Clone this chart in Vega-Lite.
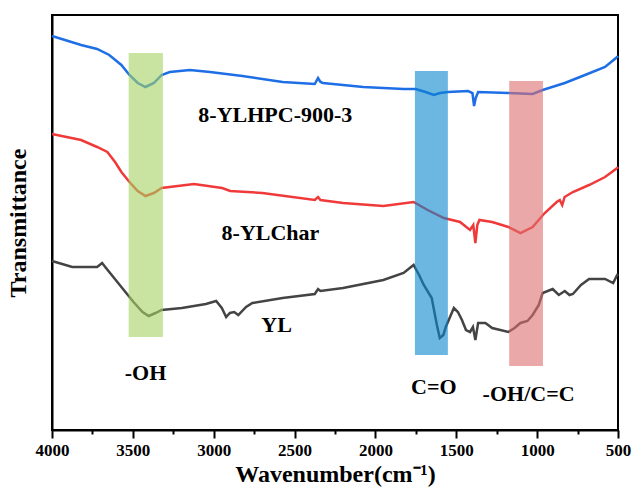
{
  "$schema": "https://vega.github.io/schema/vega-lite/v6.json",
  "width": 566,
  "height": 415,
  "autosize": "none",
  "padding": {"left": 52, "top": 15, "right": 15, "bottom": 58},
  "config": {
    "view": {"stroke": "#000000", "strokeWidth": 2},
    "font": "Liberation Serif"
  },
  "datasets": {
    "spectra": [
      {"series": "8-YLHPC-900-3", "w": 4000, "t": 394},
      {"series": "8-YLHPC-900-3", "w": 3900, "t": 389},
      {"series": "8-YLHPC-900-3", "w": 3820, "t": 385},
      {"series": "8-YLHPC-900-3", "w": 3721, "t": 381},
      {"series": "8-YLHPC-900-3", "w": 3646, "t": 375},
      {"series": "8-YLHPC-900-3", "w": 3571, "t": 365},
      {"series": "8-YLHPC-900-3", "w": 3521, "t": 355},
      {"series": "8-YLHPC-900-3", "w": 3470, "t": 347},
      {"series": "8-YLHPC-900-3", "w": 3422, "t": 343},
      {"series": "8-YLHPC-900-3", "w": 3370, "t": 347},
      {"series": "8-YLHPC-900-3", "w": 3322, "t": 355},
      {"series": "8-YLHPC-900-3", "w": 3272, "t": 358},
      {"series": "8-YLHPC-900-3", "w": 3147, "t": 360},
      {"series": "8-YLHPC-900-3", "w": 3023, "t": 358},
      {"series": "8-YLHPC-900-3", "w": 2823, "t": 354},
      {"series": "8-YLHPC-900-3", "w": 2574, "t": 348},
      {"series": "8-YLHPC-900-3", "w": 2375, "t": 346},
      {"series": "8-YLHPC-900-3", "w": 2355, "t": 352},
      {"series": "8-YLHPC-900-3", "w": 2340, "t": 348},
      {"series": "8-YLHPC-900-3", "w": 2325, "t": 347},
      {"series": "8-YLHPC-900-3", "w": 2075, "t": 343},
      {"series": "8-YLHPC-900-3", "w": 1826, "t": 341},
      {"series": "8-YLHPC-900-3", "w": 1751, "t": 341},
      {"series": "8-YLHPC-900-3", "w": 1690, "t": 338},
      {"series": "8-YLHPC-900-3", "w": 1639, "t": 335},
      {"series": "8-YLHPC-900-3", "w": 1600, "t": 337},
      {"series": "8-YLHPC-900-3", "w": 1552, "t": 338},
      {"series": "8-YLHPC-900-3", "w": 1427, "t": 339},
      {"series": "8-YLHPC-900-3", "w": 1400, "t": 337},
      {"series": "8-YLHPC-900-3", "w": 1390, "t": 324},
      {"series": "8-YLHPC-900-3", "w": 1380, "t": 332},
      {"series": "8-YLHPC-900-3", "w": 1365, "t": 338},
      {"series": "8-YLHPC-900-3", "w": 1178, "t": 337},
      {"series": "8-YLHPC-900-3", "w": 1028, "t": 336},
      {"series": "8-YLHPC-900-3", "w": 966, "t": 340},
      {"series": "8-YLHPC-900-3", "w": 829, "t": 347},
      {"series": "8-YLHPC-900-3", "w": 704, "t": 355},
      {"series": "8-YLHPC-900-3", "w": 580, "t": 363},
      {"series": "8-YLHPC-900-3", "w": 505, "t": 373},
      {"series": "8-YLHPC-900-3", "w": 500, "t": 374},
      {"series": "8-YLChar", "w": 4000, "t": 296},
      {"series": "8-YLChar", "w": 3820, "t": 290},
      {"series": "8-YLChar", "w": 3721, "t": 283},
      {"series": "8-YLChar", "w": 3658, "t": 278},
      {"series": "8-YLChar", "w": 3610, "t": 268},
      {"series": "8-YLChar", "w": 3571, "t": 258},
      {"series": "8-YLChar", "w": 3521, "t": 248},
      {"series": "8-YLChar", "w": 3470, "t": 239},
      {"series": "8-YLChar", "w": 3422, "t": 234},
      {"series": "8-YLChar", "w": 3370, "t": 237},
      {"series": "8-YLChar", "w": 3322, "t": 242},
      {"series": "8-YLChar", "w": 3122, "t": 246},
      {"series": "8-YLChar", "w": 2948, "t": 242},
      {"series": "8-YLChar", "w": 2898, "t": 239},
      {"series": "8-YLChar", "w": 2699, "t": 237},
      {"series": "8-YLChar", "w": 2375, "t": 230},
      {"series": "8-YLChar", "w": 2355, "t": 233},
      {"series": "8-YLChar", "w": 2340, "t": 230},
      {"series": "8-YLChar", "w": 2200, "t": 227},
      {"series": "8-YLChar", "w": 1951, "t": 224},
      {"series": "8-YLChar", "w": 1764, "t": 228},
      {"series": "8-YLChar", "w": 1677, "t": 220},
      {"series": "8-YLChar", "w": 1577, "t": 212},
      {"series": "8-YLChar", "w": 1477, "t": 208},
      {"series": "8-YLChar", "w": 1415, "t": 200},
      {"series": "8-YLChar", "w": 1395, "t": 205},
      {"series": "8-YLChar", "w": 1382, "t": 187},
      {"series": "8-YLChar", "w": 1370, "t": 205},
      {"series": "8-YLChar", "w": 1357, "t": 210},
      {"series": "8-YLChar", "w": 1278, "t": 208},
      {"series": "8-YLChar", "w": 1178, "t": 203},
      {"series": "8-YLChar", "w": 1103, "t": 197},
      {"series": "8-YLChar", "w": 1028, "t": 203},
      {"series": "8-YLChar", "w": 953, "t": 217},
      {"series": "8-YLChar", "w": 879, "t": 228},
      {"series": "8-YLChar", "w": 860, "t": 230},
      {"series": "8-YLChar", "w": 845, "t": 225},
      {"series": "8-YLChar", "w": 830, "t": 233},
      {"series": "8-YLChar", "w": 779, "t": 238},
      {"series": "8-YLChar", "w": 679, "t": 245},
      {"series": "8-YLChar", "w": 580, "t": 253},
      {"series": "8-YLChar", "w": 505, "t": 262},
      {"series": "8-YLChar", "w": 500, "t": 263},
      {"series": "YL", "w": 4000, "t": 169},
      {"series": "YL", "w": 3875, "t": 163},
      {"series": "YL", "w": 3721, "t": 163},
      {"series": "YL", "w": 3690, "t": 167},
      {"series": "YL", "w": 3666, "t": 162},
      {"series": "YL", "w": 3571, "t": 143},
      {"series": "YL", "w": 3496, "t": 128},
      {"series": "YL", "w": 3440, "t": 118},
      {"series": "YL", "w": 3402, "t": 114},
      {"series": "YL", "w": 3360, "t": 117},
      {"series": "YL", "w": 3322, "t": 120},
      {"series": "YL", "w": 3197, "t": 122},
      {"series": "YL", "w": 3048, "t": 126},
      {"series": "YL", "w": 2985, "t": 129},
      {"series": "YL", "w": 2950, "t": 122},
      {"series": "YL", "w": 2923, "t": 113},
      {"series": "YL", "w": 2900, "t": 117},
      {"series": "YL", "w": 2873, "t": 118},
      {"series": "YL", "w": 2848, "t": 115},
      {"series": "YL", "w": 2800, "t": 123},
      {"series": "YL", "w": 2761, "t": 127},
      {"series": "YL", "w": 2574, "t": 132},
      {"series": "YL", "w": 2375, "t": 136},
      {"series": "YL", "w": 2355, "t": 141},
      {"series": "YL", "w": 2340, "t": 139},
      {"series": "YL", "w": 2200, "t": 142},
      {"series": "YL", "w": 1951, "t": 150},
      {"series": "YL", "w": 1826, "t": 157},
      {"series": "YL", "w": 1764, "t": 165},
      {"series": "YL", "w": 1730, "t": 155},
      {"series": "YL", "w": 1701, "t": 145},
      {"series": "YL", "w": 1652, "t": 132},
      {"series": "YL", "w": 1620, "t": 105},
      {"series": "YL", "w": 1602, "t": 92},
      {"series": "YL", "w": 1580, "t": 95},
      {"series": "YL", "w": 1565, "t": 103},
      {"series": "YL", "w": 1515, "t": 122},
      {"series": "YL", "w": 1490, "t": 118},
      {"series": "YL", "w": 1465, "t": 110},
      {"series": "YL", "w": 1440, "t": 100},
      {"series": "YL", "w": 1415, "t": 98},
      {"series": "YL", "w": 1397, "t": 103},
      {"series": "YL", "w": 1382, "t": 90},
      {"series": "YL", "w": 1365, "t": 107},
      {"series": "YL", "w": 1320, "t": 107},
      {"series": "YL", "w": 1278, "t": 102},
      {"series": "YL", "w": 1178, "t": 98},
      {"series": "YL", "w": 1140, "t": 102},
      {"series": "YL", "w": 1103, "t": 107},
      {"series": "YL", "w": 1060, "t": 109},
      {"series": "YL", "w": 1028, "t": 115},
      {"series": "YL", "w": 990, "t": 125},
      {"series": "YL", "w": 966, "t": 137},
      {"series": "YL", "w": 904, "t": 141},
      {"series": "YL", "w": 866, "t": 135},
      {"series": "YL", "w": 829, "t": 139},
      {"series": "YL", "w": 800, "t": 135},
      {"series": "YL", "w": 779, "t": 136},
      {"series": "YL", "w": 729, "t": 145},
      {"series": "YL", "w": 679, "t": 151},
      {"series": "YL", "w": 580, "t": 151},
      {"series": "YL", "w": 530, "t": 147},
      {"series": "YL", "w": 505, "t": 155},
      {"series": "YL", "w": 500, "t": 156}
    ],
    "bands": [
      {"group": "-OH", "w1": 3526, "w2": 3314, "t1": 93, "t2": 377},
      {"group": "C=O", "w1": 1756, "w2": 1552, "t1": 75, "t2": 359},
      {"group": "-OH/C=C", "w1": 1173, "w2": 964, "t1": 64, "t2": 349}
    ],
    "labels": [
      {"label": "8-YLHPC-900-3", "w": 2619, "t": 315},
      {"label": "8-YLChar", "w": 2649, "t": 197},
      {"label": "YL", "w": 2611, "t": 105},
      {"label": "-OH", "w": 3422, "t": 57},
      {"label": "C=O", "w": 1639, "t": 43},
      {"label": "-OH/C=C", "w": 1053, "t": 36}
    ]
  },
  "layer": [
    {
      "data": {"name": "spectra"},
      "mark": {"type": "line", "strokeWidth": 2.5},
      "encoding": {
        "x": {
          "field": "w", "type": "quantitative",
          "scale": {"domain": [500, 4000], "reverse": true, "nice": false, "zero": false},
          "axis": {
            "values": [4000, 3750, 3500, 3250, 3000, 2750, 2500, 2250, 2000, 1750, 1500, 1250, 1000, 750, 500],
            "format": "d",
            "labelExpr": "datum.value % 500 === 0 ? datum.label : ''",
            "title": "Wavenumber(cm⁻¹)",
            "titleFont": "Liberation Serif", "titleFontSize": 24, "titleFontWeight": "bold", "titleColor": "#000000",
            "titlePadding": 4,
            "labelFont": "Liberation Serif", "labelFontSize": 17, "labelFontWeight": "bold", "labelColor": "#000000",
            "labelPadding": 4, "labelFlush": false, "labelOverlap": false,
            "tickSize": {"condition": {"test": "datum.value % 500 === 0", "value": 8}, "value": 4},
            "tickWidth": 2, "tickColor": "#000000",
            "domainColor": "#000000", "domainWidth": 2, "grid": false
          }
        },
        "y": {
          "field": "t", "type": "quantitative",
          "scale": {"domain": [0, 415], "nice": false, "zero": false},
          "axis": {
            "title": "Transmittance",
            "titleFont": "Liberation Serif", "titleFontSize": 24, "titleFontWeight": "bold", "titleColor": "#000000",
            "titlePadding": 22,
            "labels": false, "ticks": false, "grid": false,
            "domainColor": "#000000", "domainWidth": 2
          }
        },
        "stroke": {
          "field": "series", "type": "nominal",
          "scale": {"domain": ["8-YLHPC-900-3", "8-YLChar", "YL"], "range": ["#1e6ee6", "#f03a3a", "#444444"]},
          "legend": null
        },
        "detail": {"field": "series"}
      }
    },
    {
      "data": {"name": "bands"},
      "mark": {"type": "rect", "opacity": 0.6},
      "encoding": {
        "x": {"field": "w1", "type": "quantitative"},
        "x2": {"field": "w2"},
        "y": {"field": "t1", "type": "quantitative"},
        "y2": {"field": "t2"},
        "fill": {
          "field": "group", "type": "nominal",
          "scale": {"domain": ["-OH", "C=O", "-OH/C=C"], "range": ["#a3d261", "#0a85cf", "#de6e6e"]},
          "legend": null
        }
      }
    },
    {
      "data": {"name": "labels"},
      "mark": {"type": "text", "font": "Liberation Serif", "fontSize": 22, "fontWeight": "bold", "color": "#000000", "align": "center", "baseline": "middle"},
      "encoding": {
        "x": {"field": "w", "type": "quantitative"},
        "y": {"field": "t", "type": "quantitative"},
        "text": {"field": "label"}
      }
    }
  ]
}
